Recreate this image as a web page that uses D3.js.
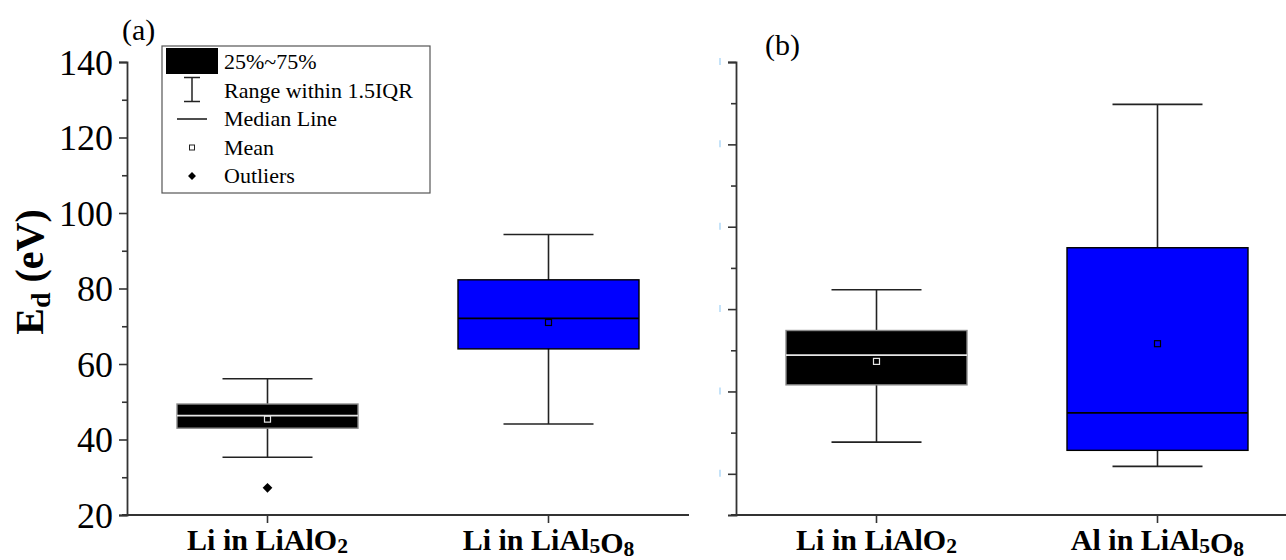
<!DOCTYPE html>
<html>
<head>
<meta charset="utf-8">
<script src="https://cdn.jsdelivr.net/npm/d3@7.9.0/dist/d3.min.js"></script>
<style>
  html, body { margin: 0; padding: 0; background: #fff; }
  svg text { font-family: 'Liberation Serif', 'Times New Roman', 'DejaVu Serif', serif; }
</style>
</head>
<body>
<svg id="chart" width="1286" height="560"></svg>
<script>
// panel (a): Li displacement energies, eV
const labelsA = ['Li in LiAlO_2', 'Li in LiAl_5O_8'];
const q1A = [43.0, 64.0];
const medianA = [46.3, 72.1];
const q3A = [49.4, 82.3];
const meanA = [45.4, 71.0];
const lowA = [35.3, 44.1];
const highA = [56.1, 94.3];
const outliersA = [[27.2], []];

// panel (b): tick labels are cut off in the source, so the scale is only relative
const labelsB = ['Li in LiAlO_2', 'Al in LiAl_5O_8'];
const q1B = [41.6, 25.7];
const medianB = [48.8, 34.8];
const q3B = [54.8, 74.9];
const meanB = [47.3, 51.6];
const lowB = [27.7, 21.8];
const highB = [64.7, 109.7];
const outliersB = [[], []];

const ticksA = [20, 40, 60, 80, 100, 120, 140];
const minorA = [30, 50, 70, 90, 110, 130];
const ticksB = [20, 40, 60, 80, 100, 120];
const minorB = [30, 50, 70, 90, 110];

const fillColors = ['#000000', '#0000ff'];
const edgeColors = ['#8a8a8a', '#000000'];
const innerColors = ['#e6e6e6', '#000000'];

const svg = d3.select('#chart');
const plotTop = 62, plotBottom = 515;
const axisColor = '#333';
const serif = "'Liberation Serif', 'Times New Roman', serif";

// write "X_2" style labels with subscripts
function subText(sel, str, size) {
  const parts = str.split(/(_\d)/).filter(p => p);
  parts.forEach((p, k) => {
    if (p[0] === '_') {
      sel.append('tspan').attr('font-size', size * 0.72).attr('dy', 3).text(p.slice(1));
      if (k < parts.length - 1) sel.append('tspan').attr('font-size', size).attr('dy', -3).text('');
    } else {
      sel.append('tspan').text(p);
    }
  });
}

function drawPanel(opt) {
  const x = d3.scaleLinear().domain([0.5, 2.5]).range([opt.x0, opt.x0 + 562]);
  const y = d3.scaleLinear().domain(opt.domain).range([plotBottom, plotTop]);
  const g = svg.append('g');

  // x axis line + ticks
  g.append('line')
    .attr('x1', opt.x0 - 5).attr('x2', x(2.5))
    .attr('y1', plotBottom).attr('y2', plotBottom)
    .attr('stroke', axisColor).attr('stroke-width', 1.8);
  g.selectAll('.xt').data(opt.labels).join('line')
    .attr('x1', (d, i) => x(i + 1)).attr('x2', (d, i) => x(i + 1))
    .attr('y1', plotBottom).attr('y2', plotBottom + 8)
    .attr('stroke', axisColor).attr('stroke-width', 1.6);
  g.selectAll('.xl').data(opt.labels).join('text')
    .attr('x', (d, i) => x(i + 1)).attr('y', 550)
    .attr('text-anchor', 'middle')
    .attr('font-family', serif)
    .attr('font-size', 30).attr('font-weight', 'bold')
    .each(function (d) { subText(d3.select(this), d, 30); });

  // y axis
  const yAxis = d3.axisLeft(y).tickValues(opt.ticks).tickSize(8).tickPadding(6)
    .tickFormat(opt.showLabels ? d3.format('d') : '');
  const ya = g.append('g').attr('transform', `translate(${opt.x0},0)`).call(yAxis);
  ya.select('.domain').attr('stroke', axisColor).attr('stroke-width', 1.8);
  ya.selectAll('.tick line').attr('stroke', axisColor).attr('stroke-width', 1.6);
  ya.selectAll('.tick text').attr('font-size', 36).attr('fill', '#000')
    .attr('font-family', serif).attr('dy', '0.34em');
  const yMinor = d3.axisLeft(y).tickValues(opt.minor).tickSize(5).tickFormat('');
  const ym = g.append('g').attr('transform', `translate(${opt.x0},0)`).call(yMinor);
  ym.select('.domain').remove();
  ym.selectAll('.tick line').attr('stroke', axisColor).attr('stroke-width', 1.6);

  if (!opt.showLabels) {
    // faint remnants of the clipped tick labels
    g.selectAll('.ghost').data(opt.ticks).join('line')
      .attr('x1', opt.x0 - 16).attr('x2', opt.x0 - 16)
      .attr('y1', d => y(d) - 4).attr('y2', d => y(d) + 3)
      .attr('stroke', '#9fd0f5').attr('stroke-width', 1.2);
  }

  const n = opt.labels.length;
  const half = 90.5, cap = 45;
  for (let i = 0; i < n; i++) {
    const cx = x(i + 1);
    // whiskers
    g.append('line').attr('x1', cx).attr('x2', cx)
      .attr('y1', y(opt.high[i])).attr('y2', y(opt.low[i]))
      .attr('stroke', '#222').attr('stroke-width', 1.6);
    [opt.high[i], opt.low[i]].forEach(v => {
      g.append('line').attr('x1', cx - cap).attr('x2', cx + cap)
        .attr('y1', y(v)).attr('y2', y(v))
        .attr('stroke', '#222').attr('stroke-width', 1.6);
    });
    // box
    g.append('rect')
      .attr('x', cx - half).attr('width', half * 2)
      .attr('y', y(opt.q3[i])).attr('height', y(opt.q1[i]) - y(opt.q3[i]))
      .attr('fill', fillColors[i]).attr('stroke', edgeColors[i]).attr('stroke-width', 1.4);
    // median
    g.append('line').attr('x1', cx - half).attr('x2', cx + half)
      .attr('y1', y(opt.median[i])).attr('y2', y(opt.median[i]))
      .attr('stroke', innerColors[i]).attr('stroke-width', 1.8);
    // mean
    g.append('rect')
      .attr('x', cx - 3).attr('y', y(opt.mean[i]) - 3)
      .attr('width', 6).attr('height', 6)
      .attr('fill', 'none').attr('stroke', innerColors[i]).attr('stroke-width', 1.2);
    // outliers
    opt.outliers[i].forEach(v => {
      g.append('path')
        .attr('d', d3.symbol(d3.symbolDiamond2, 60)())
        .attr('transform', `translate(${cx},${y(v)})`)
        .attr('fill', '#000');
    });
  }

  g.append('text')
    .attr('x', opt.tagX).attr('y', opt.tagY)
    .attr('font-family', serif)
    .attr('font-size', 30).text(opt.tag);
}

drawPanel({
  x0: 127, domain: [20, 140], ticks: ticksA, minor: minorA, showLabels: true,
  labels: labelsA, q1: q1A, median: medianA, q3: q3A, mean: meanA,
  low: lowA, high: highA, outliers: outliersA, tag: '(a)', tagX: 122, tagY: 40
});
drawPanel({
  x0: 736, domain: [10, 120], ticks: ticksB, minor: minorB, showLabels: false,
  labels: labelsB, q1: q1B, median: medianB, q3: q3B, mean: meanB,
  low: lowB, high: highB, outliers: outliersB, tag: '(b)', tagX: 765, tagY: 55
});

// y axis title
const yt = svg.append('text')
  .attr('transform', 'translate(43,272) rotate(-90)')
  .attr('text-anchor', 'middle')
  .attr('font-family', serif)
  .attr('font-size', 40).attr('font-weight', 'bold');
yt.append('tspan').text('E');
yt.append('tspan').attr('font-size', 28).attr('dy', 7).text('d');
yt.append('tspan').attr('dy', -7).text(' (eV)');

// legend
const leg = svg.append('g').attr('transform', 'translate(162,46)');
leg.append('rect').attr('width', 268).attr('height', 147)
  .attr('fill', '#fff').attr('stroke', '#555').attr('stroke-width', 1.2);
const legendItems = ['25%~75%', 'Range within 1.5IQR', 'Median Line', 'Mean', 'Outliers'];
const rowY = d3.scaleLinear().domain([0, 4]).range([16, 130]);
const sx = 30;
leg.append('rect').attr('x', 4).attr('y', 2).attr('width', 52).attr('height', 26).attr('fill', '#000');
leg.append('line').attr('x1', sx).attr('x2', sx).attr('y1', rowY(1) - 13).attr('y2', rowY(1) + 11).attr('stroke', '#222').attr('stroke-width', 1.5);
leg.append('line').attr('x1', sx - 8).attr('x2', sx + 8).attr('y1', rowY(1) - 13).attr('y2', rowY(1) - 13).attr('stroke', '#222').attr('stroke-width', 1.5);
leg.append('line').attr('x1', sx - 8).attr('x2', sx + 8).attr('y1', rowY(1) + 11).attr('y2', rowY(1) + 11).attr('stroke', '#222').attr('stroke-width', 1.5);
leg.append('line').attr('x1', sx - 15).attr('x2', sx + 15).attr('y1', rowY(2)).attr('y2', rowY(2)).attr('stroke', '#222').attr('stroke-width', 1.6);
leg.append('rect').attr('x', sx - 2.5).attr('y', rowY(3) - 2.5).attr('width', 5).attr('height', 5).attr('fill', 'none').attr('stroke', '#222').attr('stroke-width', 1);
leg.append('path').attr('d', d3.symbol(d3.symbolDiamond2, 40)()).attr('transform', `translate(${sx},${rowY(4)})`).attr('fill', '#000');
leg.selectAll('.lt').data(legendItems).join('text')
  .attr('x', 62).attr('y', (d, i) => rowY(i) + 7)
  .attr('font-family', serif)
  .attr('font-size', 22).text(d => d);
</script>
</body>
</html>
